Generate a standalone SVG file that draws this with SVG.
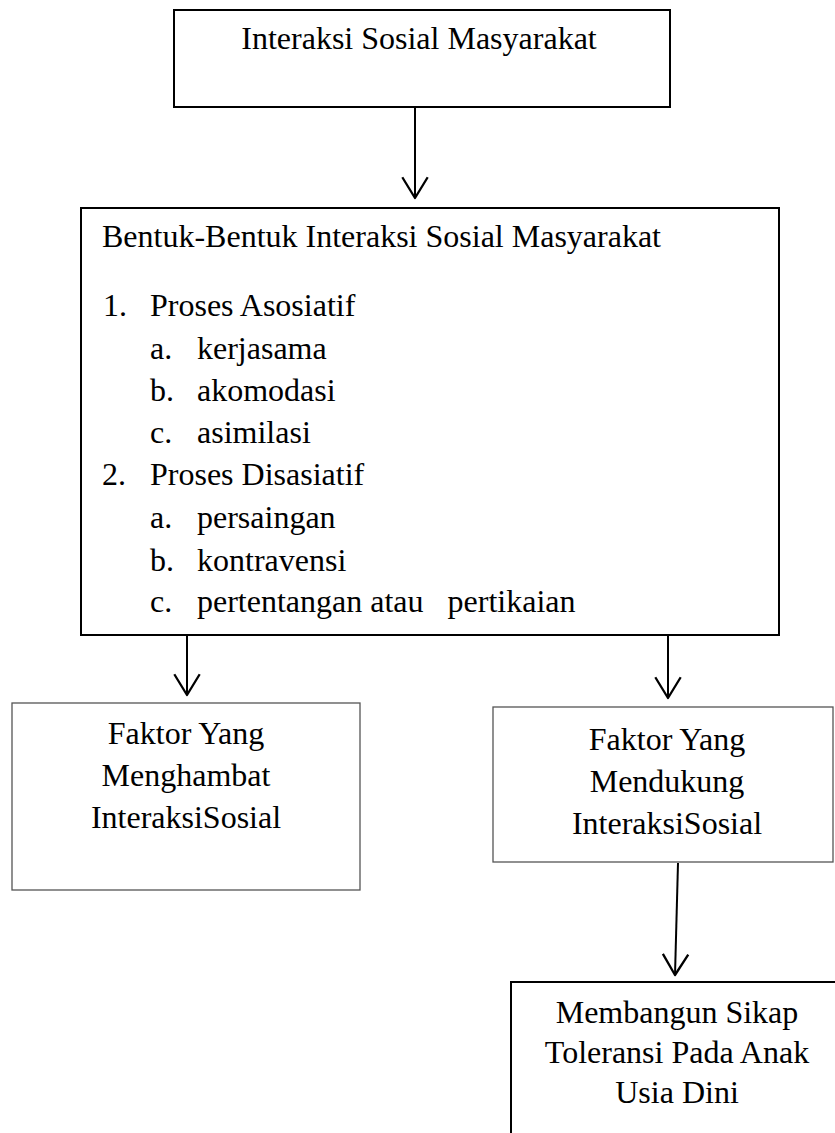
<svg xmlns="http://www.w3.org/2000/svg" width="835" height="1133" viewBox="0 0 835 1133">
<style>
text{font-family:"Liberation Serif","Times New Roman",serif;font-size:32px;fill:#000}
.c{text-anchor:middle}
.box{fill:#fff;stroke:#000;stroke-width:2}
.thin{fill:#fff;stroke:#555;stroke-width:1.3}
.conn{stroke:#000;stroke-width:2;fill:none}
</style>
<defs>
<marker id="vh" markerUnits="userSpaceOnUse" markerWidth="30" markerHeight="30" viewBox="-20 -13 22 26" refX="0" refY="0" orient="auto">
<path d="M-18,-11 L0,0 L-18,11" fill="none" stroke="#000" stroke-width="2" stroke-linejoin="round"/>
</marker>
</defs>
<rect width="835" height="1133" fill="#fff"/>
<g id="n1">
<rect class="box" x="174" y="10" width="496" height="97"/>
<text class="c" x="419" y="49">Interaksi Sosial Masyarakat</text>
</g>
<g id="n2">
<rect class="box" x="81" y="208" width="698" height="427"/>
<text x="102" y="247">Bentuk-Bentuk Interaksi Sosial Masyarakat</text>
<text x="103" y="316">1.</text><text x="150" y="316">Proses Asosiatif</text>
<text x="150" y="359">a.</text><text x="197" y="359">kerjasama</text>
<text x="150" y="401">b.</text><text x="197" y="401">akomodasi</text>
<text x="150" y="443">c.</text><text x="197" y="443">asimilasi</text>
<text x="102" y="485">2.</text><text x="150" y="485">Proses Disasiatif</text>
<text x="150" y="528">a.</text><text x="197" y="528">persaingan</text>
<text x="150" y="571">b.</text><text x="197" y="571">kontravensi</text>
<text x="150" y="612">c.</text><text x="197" y="612" xml:space="preserve">pertentangan atau   pertikaian</text>
</g>
<g id="n3">
<rect class="thin" x="12" y="703" width="348" height="187"/>
<text class="c" x="186" y="744">Faktor Yang</text>
<text class="c" x="186" y="786">Menghambat</text>
<text class="c" x="186" y="828">InteraksiSosial</text>
</g>
<g id="n4">
<rect class="thin" x="493" y="707" width="340" height="155"/>
<text class="c" x="667" y="750">Faktor Yang</text>
<text class="c" x="667" y="792">Mendukung</text>
<text class="c" x="667" y="834">InteraksiSosial</text>
</g>
<g id="n5">
<rect class="box" x="511" y="982" width="340" height="170"/>
<text class="c" x="677" y="1023">Membangun Sikap</text>
<text class="c" x="677" y="1063">Toleransi Pada Anak</text>
<text class="c" x="677" y="1103">Usia Dini</text>
</g>
<g id="connectors">
<line class="conn" x1="415" y1="108" x2="415" y2="198" marker-end="url(#vh)"/>
<line class="conn" x1="187" y1="636" x2="187" y2="695" marker-end="url(#vh)"/>
<line class="conn" x1="668" y1="636" x2="668" y2="698" marker-end="url(#vh)"/>
<line class="conn" x1="678" y1="863" x2="675" y2="975" marker-end="url(#vh)"/>
</g>
</svg>
